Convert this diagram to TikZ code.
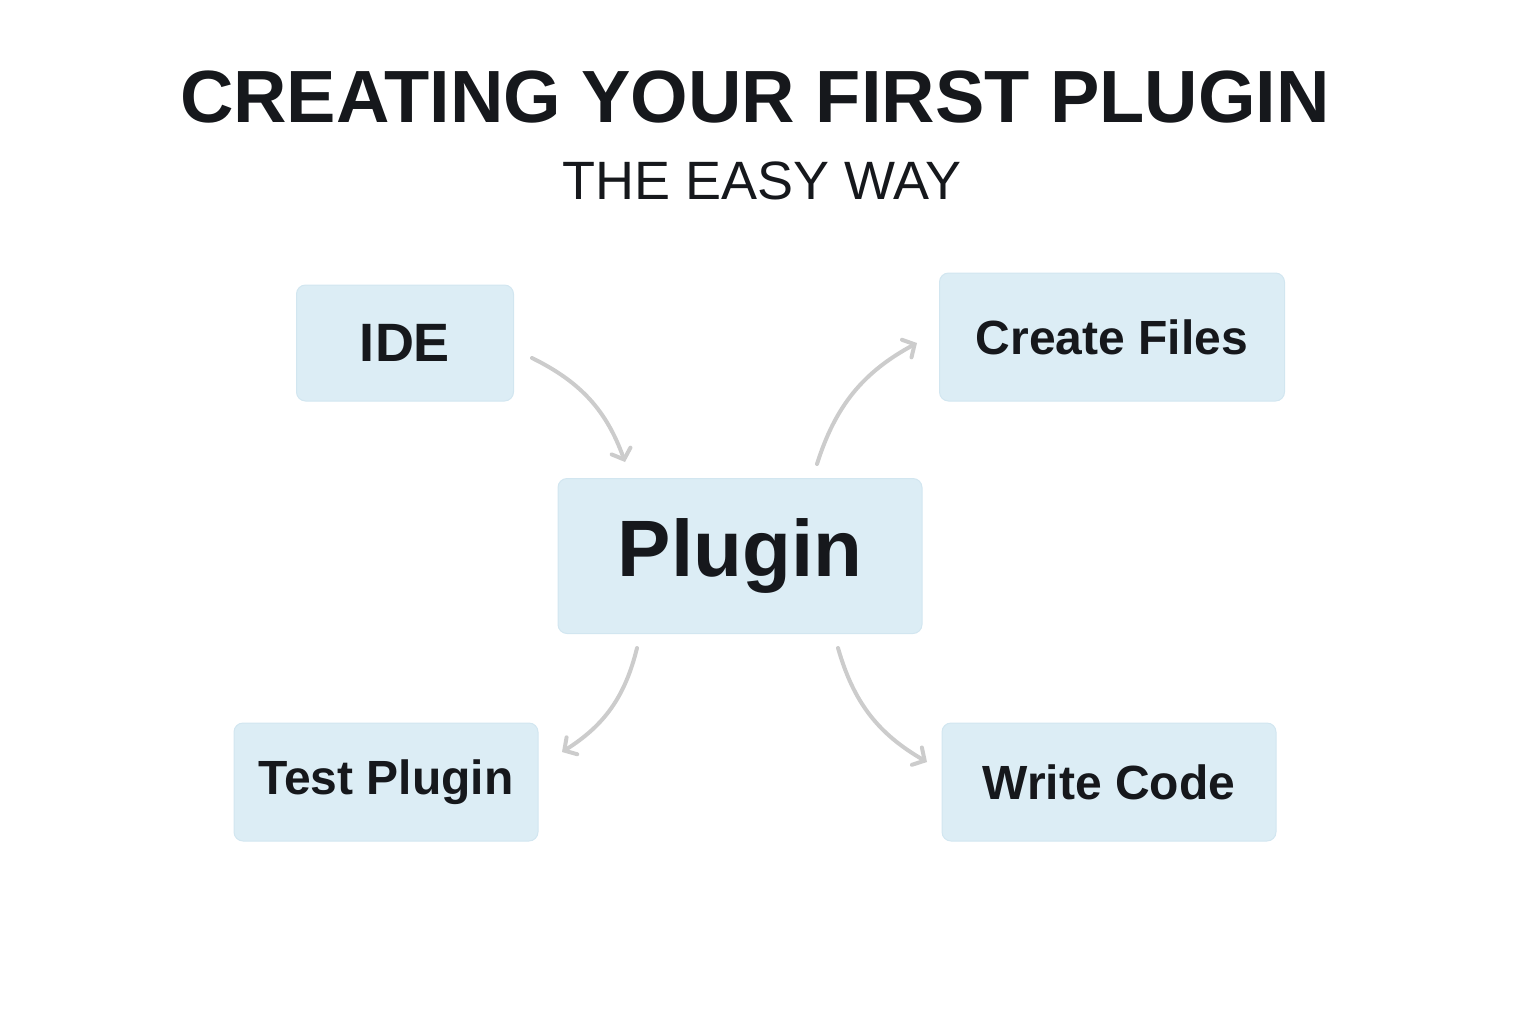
\documentclass[tikz,border=0pt]{standalone}
\usepackage{fontspec}
\setmainfont{Liberation Sans}
\usetikzlibrary{arrows.meta}
\newlength{\du}
\setlength{\du}{0.5pt}
\definecolor{boxfill}{RGB}{220,237,245}
\definecolor{boxline}{RGB}{210,230,240}
\definecolor{inkcolor}{RGB}{22,24,28}
\definecolor{arrowcolor}{RGB}{204,204,204}
\tikzset{
  box/.style={draw=boxline, fill=boxfill, rounded corners=9\du, line width=1\du,
    text=inkcolor, font=\bfseries, inner sep=0pt},
  flow/.style={draw=arrowcolor, line width=2pt, line cap=round,
    -{Straight Barb[length=4.5pt,width=10pt,line cap=round]}}
}
\begin{document}
\begin{tikzpicture}[x=\du, y=-\du]
\useasboundingbox (0,0) rectangle (1536,1024);
% title
\node[text=inkcolor, font=\bfseries\fontsize{37}{44}\selectfont] (title) at (755,97) {CREATING YOUR FIRST PLUGIN};
\node[text=inkcolor, font=\fontsize{27}{32}\selectfont] (subtitle) at (762,181) {THE EASY WAY};
% boxes
\node[box, minimum width=217\du, minimum height=116\du, font=\bfseries\fontsize{27}{32}\selectfont] (ide) at (405,343) {IDE};
\node[box, minimum width=345\du, minimum height=128\du, font=\bfseries\fontsize{24}{29}\selectfont] (files) at (1112,337) {Create Files};
\node[box, minimum width=364\du, minimum height=155\du, font=\bfseries\fontsize{40}{48}\selectfont] (plugin) at (740,556) {Plugin};
\node[box, minimum width=304\du, minimum height=118\du, font=\bfseries\fontsize{24}{29}\selectfont] (test) at (386,782) {Test Plugin};
\node[box, minimum width=334\du, minimum height=118\du, font=\bfseries\fontsize{24}{29}\selectfont] (code) at (1109,782) {Write Code};
% connector ends
\coordinate (ide out) at (532,358);
\coordinate (plugin in) at (625,462);
\coordinate (files out) at (817,464);
\coordinate (files in) at (917,343);
\coordinate (test out) at (637,648);
\coordinate (test in) at (562,752);
\coordinate (code out) at (838,648);
\coordinate (code in) at (927,762);
% arrows
\draw[flow] (ide out) to[bend left=22] (plugin in);
\draw[flow] (files out) to[bend left=22] (files in);
\draw[flow] (test out) to[bend left=22] (test in);
\draw[flow] (code out) to[bend right=22] (code in);
\end{tikzpicture}
\end{document}
